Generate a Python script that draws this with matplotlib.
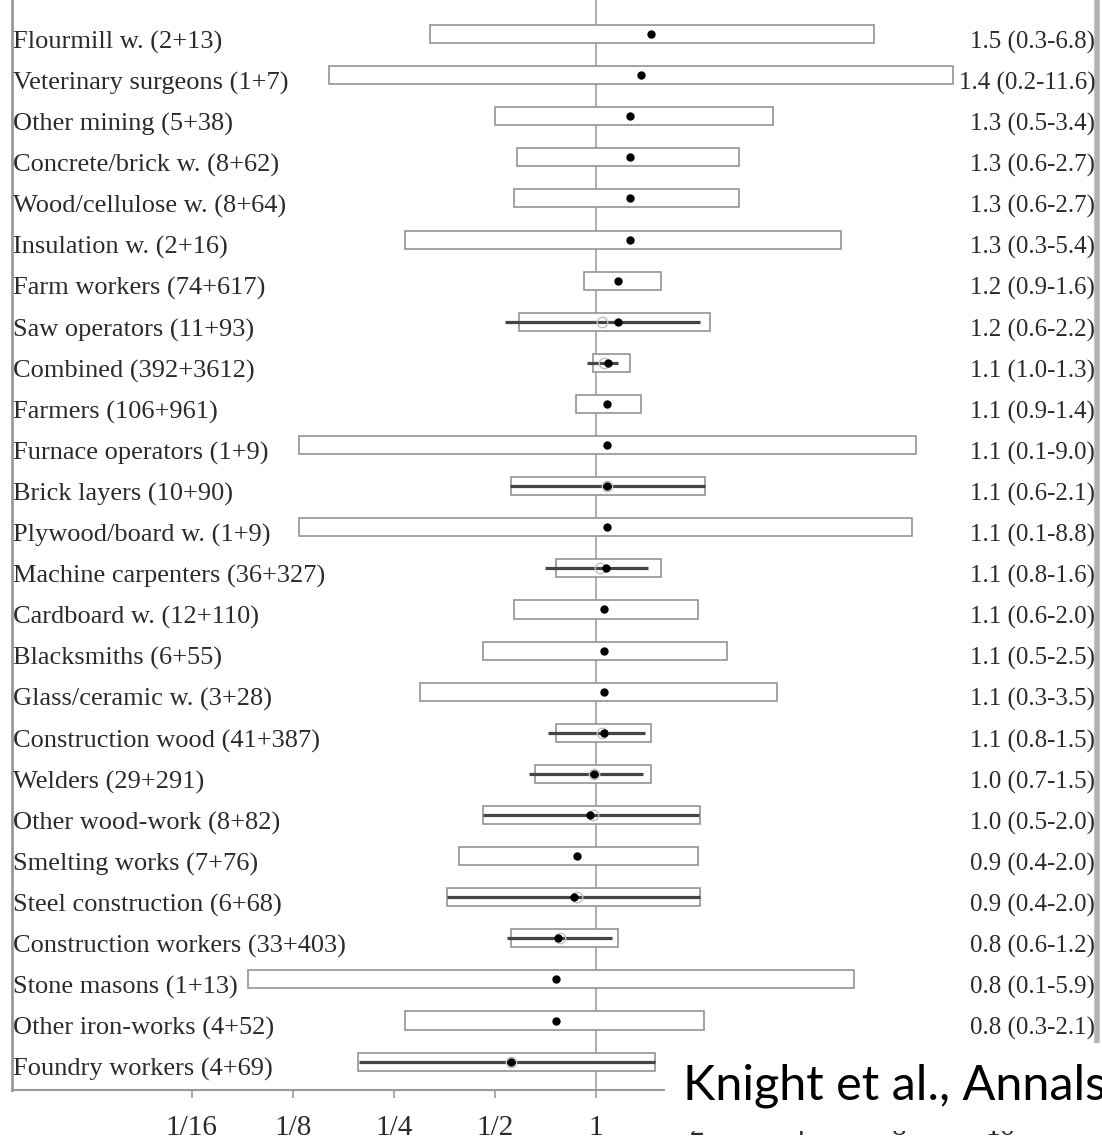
import matplotlib.pyplot as plt
from matplotlib.patches import Rectangle
from matplotlib.ticker import NullLocator

plt.rcParams['font.family'] = 'Liberation Serif'

groups = ['Flourmill w. (2+13)', 'Veterinary surgeons (1+7)', 'Other mining (5+38)',
          'Concrete/brick w. (8+62)', 'Wood/cellulose w. (8+64)', 'Insulation w. (2+16)',
          'Farm workers (74+617)', 'Saw operators (11+93)', 'Combined (392+3612)',
          'Farmers (106+961)', 'Furnace operators (1+9)', 'Brick layers (10+90)',
          'Plywood/board w. (1+9)', 'Machine carpenters (36+327)', 'Cardboard w. (12+110)',
          'Blacksmiths (6+55)', 'Glass/ceramic w. (3+28)', 'Construction wood (41+387)',
          'Welders (29+291)', 'Other wood-work (8+82)', 'Smelting works (7+76)',
          'Steel construction (6+68)', 'Construction workers (33+403)', 'Stone masons (1+13)',
          'Other iron-works (4+52)', 'Foundry workers (4+69)']

# odds ratio and 95% CI per group
or_est = [1.46, 1.36, 1.26, 1.26, 1.26, 1.26, 1.16, 1.16, 1.09, 1.08, 1.08, 1.08, 1.08,
          1.07, 1.06, 1.06, 1.06, 1.06, 0.99, 0.96, 0.88, 0.86, 0.77, 0.76, 0.76, 0.56]
or_lo = [0.32, 0.16, 0.50, 0.58, 0.57, 0.27, 0.92, 0.59, 0.98, 0.87, 0.13, 0.56, 0.13,
         0.76, 0.57, 0.46, 0.30, 0.76, 0.66, 0.46, 0.39, 0.36, 0.56, 0.092, 0.27, 0.196]
or_hi = [6.76, 11.56, 3.36, 2.66, 2.66, 5.36, 1.56, 2.19, 1.26, 1.36, 8.96, 2.12, 8.77,
         1.56, 2.01, 2.46, 3.46, 1.46, 1.46, 2.04, 2.01, 2.04, 1.16, 5.86, 2.10, 1.50]

# second estimate, shown as a dark line with an open circle
adj_groups = ['Saw operators (11+93)', 'Combined (392+3612)', 'Brick layers (10+90)',
              'Machine carpenters (36+327)', 'Construction wood (41+387)', 'Welders (29+291)',
              'Other wood-work (8+82)', 'Steel construction (6+68)',
              'Construction workers (33+403)', 'Foundry workers (4+69)']
adj_est = [1.04, 1.06, 1.08, 1.03, 1.04, 0.99, 0.98, 0.88, 0.78, 0.56]
adj_lo = [0.536, 0.94, 0.555, 0.705, 0.72, 0.63, 0.46, 0.36, 0.543, 0.197]
adj_hi = [2.04, 1.16, 2.11, 1.43, 1.40, 1.38, 2.03, 2.04, 1.12, 1.50]

tick_vals = [1/16, 1/8, 1/4, 1/2, 1, 2, 4, 8, 16]
tick_labels = ['1/16', '1/8', '1/4', '1/2', '1', '2', '4', '8', '16']

W, H = 1102, 1145
fig = plt.figure(figsize=(W / 100, H / 100), dpi=100)
ax = fig.add_axes([12 / W, 1 - 1090 / H, 1085 / W, (1090 + 15.3) / H])

rows = list(range(len(groups)))
widths = [h - l for l, h in zip(or_lo, or_hi)]

ax.axvline(1, color='#9a9a9a', lw=1.1, zorder=0)
ax.barh(rows, widths, left=or_lo, height=0.44, color='white',
        edgecolor='#939393', linewidth=1.2, zorder=1)

adj_rows = [groups.index(g) for g in adj_groups]
ax.hlines(adj_rows, adj_lo, adj_hi, color='#454545', lw=2.3, zorder=2)
ax.plot(adj_est, adj_rows, 'o', mfc='none', mec='#c0c0c0', ms=7.5, mew=1.0, zorder=3)
ax.plot(or_est, rows, 'o', color='black', ms=5, zorder=4)

for i in rows:
    ax.text(0.001, i + 0.2, groups[i], transform=ax.get_yaxis_transform(),
            ha='left', va='center', fontsize=19, color='#2b2b2b')
    # last row's figures sit under the citation patch
    if i < len(groups) - 1:
        ax.text(0.9985, i + 0.2, f'{or_est[i]:.1f} ({or_lo[i]:.1f}-{or_hi[i]:.1f})',
                transform=ax.get_yaxis_transform(), ha='right', va='center',
                fontsize=18, color='#2b2b2b')

ax.set_xscale('log', base=2)
ax.set_xlim(2 ** -5.78, 2 ** 4.96)
ax.set_ylim(25.69, -1.2)
ax.set_xticks(tick_vals)
ax.set_xticklabels(tick_labels)
ax.xaxis.set_minor_locator(NullLocator())
ax.set_yticks([])
ax.tick_params(axis='x', length=6, width=1.2, color='#999999', labelsize=21,
               labelcolor='#2b2b2b', pad=12)

ax.spines['top'].set_visible(False)
ax.spines['left'].set_color('#9a9a9a')
ax.spines['left'].set_linewidth(2)
ax.spines['bottom'].set_color('#9a9a9a')
ax.spines['bottom'].set_linewidth(1.5)
ax.spines['right'].set_color('#b4b4b4')
ax.spines['right'].set_linewidth(4)

# citation label on a white patch over the lower right corner
fig.patches.append(Rectangle((665 / W, 1 - 1131 / H), (W - 665) / W, 88 / H,
                             transform=fig.transFigure, facecolor='white',
                             edgecolor='none', zorder=5))
fig.text(683 / W, 1 - 1100 / H, 'Knight et al., Annals', family='Lato',
         fontsize=35, color='black', ha='left', va='baseline', zorder=6)

fig.savefig('out.png', dpi=100)
